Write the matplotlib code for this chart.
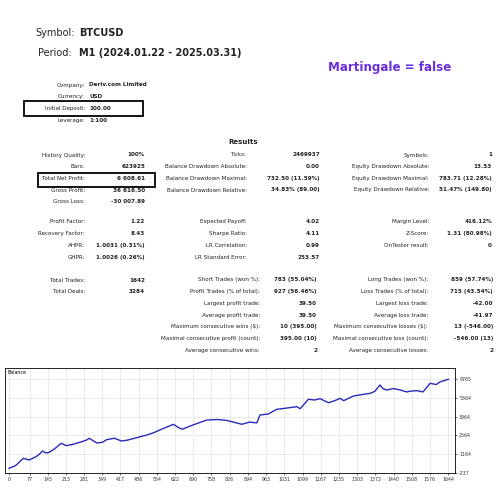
import matplotlib
matplotlib.use("Agg")
import matplotlib.pyplot as plt
from matplotlib.patches import Rectangle

trade_idx = [0, 7, 20, 30, 45, 54, 64, 75, 88, 101, 113, 126, 138, 150, 170, 195, 215, 240, 265, 291, 300, 329, 350, 366, 395, 420, 441, 470, 516, 540, 580, 616, 630, 648, 690, 741, 780, 816, 841, 872, 900, 928, 940, 970, 1003, 1040, 1078, 1090, 1121, 1145, 1165, 1196, 1220, 1240, 1253, 1290, 1320, 1353, 1370, 1389, 1400, 1414, 1440, 1464, 1490, 1500, 1527, 1550, 1577, 1600, 1614, 1630, 1645]
balance = [100, 180, 260, 400, 700, 858, 800, 731, 850, 977, 1150, 1402, 1250, 1300, 1550, 1975, 1800, 1900, 2050, 2222, 2350, 1998, 2050, 2250, 2350, 2150, 2200, 2350, 2594, 2750, 3100, 3391, 3200, 3018, 3350, 3711, 3750, 3680, 3550, 3391, 3550, 3500, 4084, 4150, 4509, 4600, 4704, 4550, 5253, 5200, 5300, 5000, 5150, 5328, 5150, 5500, 5600, 5700, 5850, 6319, 6050, 5947, 6050, 5950, 5800, 5850, 5900, 5800, 6445, 6350, 6550, 6650, 6743]
x_ticks = [0, 77, 145, 213, 281, 349, 417, 486, 554, 622, 690, 758, 826, 894, 963, 1031, 1099, 1167, 1235, 1303, 1372, 1440, 1508, 1576, 1644]
y_ticks = [-237, 1164, 2564, 3964, 5364, 6765]

left_rows = [("History Quality:", "100%"), ("Bars:", "623925"), ("Total Net Profit:", "6 608.61"),
             ("Gross Profit:", "36 616.50"), ("Gross Loss:", "-30 007.89")]
left_rows2 = [("Profit Factor:", "1.22"), ("Recovery Factor:", "8.43"), ("AHPR:", "1.0031 (0.31%)"), ("GHPR:", "1.0026 (0.26%)")]
mid_rows = [("Ticks:", "2469937"), ("Balance Drawdown Absolute:", "0.00"), ("Balance Drawdown Maximal:", "732.50 (11.59%)"),
            ("Balance Drawdown Relative:", "34.83% (89.00)")]
mid_rows2 = [("Expected Payoff:", "4.02"), ("Sharpe Ratio:", "4.11"), ("LR Correlation:", "0.99"), ("LR Standard Error:", "253.57")]
right_rows = [("Symbols:", "1"), ("Equity Drawdown Absolute:", "13.53"), ("Equity Drawdown Maximal:", "783.71 (12.28%)"),
              ("Equity Drawdown Relative:", "51.47% (149.80)")]
right_rows2 = [("Margin Level:", "416.12%"), ("Z-Score:", "1.31 (80.98%)"), ("OnTester result:", "0")]
trade_left = [("Total Trades:", "1642"), ("Total Deals:", "3284")]
trade_mid = [("Short Trades (won %):", "783 (55.04%)"), ("Profit Trades (% of total):", "927 (56.46%)"),
             ("Largest profit trade:", "39.50"), ("Average profit trade:", "39.50"),
             ("Maximum consecutive wins ($):", "10 (395.00)"), ("Maximal consecutive profit (count):", "395.00 (10)"),
             ("Average consecutive wins:", "2")]
trade_right = [("Long Trades (won %):", "859 (57.74%)"), ("Loss Trades (% of total):", "715 (43.54%)"),
               ("Largest loss trade:", "-42.00"), ("Average loss trade:", "-41.97"),
               ("Maximum consecutive losses ($):", "13 (-546.00)"), ("Maximal consecutive loss (count):", "-546.00 (13)"),
               ("Average consecutive losses:", "2")]

fig = plt.figure(figsize=(5, 5), dpi=100)
FS = 4.1

def T(x, y, s, ha="left", size=FS, bold=False, color="#222222"):
    fig.text(x / 500, 1 - y / 500, s, ha=ha, va="center", fontsize=size,
             fontweight="bold" if bold else "normal", color=color, family="DejaVu Sans")

def box(x0, y0, x1, y1):
    fig.add_artist(Rectangle((x0 / 500, 1 - y1 / 500), (x1 - x0) / 500, (y1 - y0) / 500,
                             transform=fig.transFigure, fill=False, lw=1.3, ec="black"))

T(75, 33, "Symbol:", ha="right", size=7)
T(79, 33, "BTCUSD", size=7, bold=True)
T(72, 53, "Period:", ha="right", size=7)
T(79, 53, "M1 (2024.01.22 - 2025.03.31)", size=7, bold=True)
T(390, 67, "Martingale = false", ha="center", size=8.6, bold=True, color="#6a30e0")

for i, (l, v) in enumerate([("Company:", "Deriv.com Limited"), ("Currency:", "USD"),
                            ("Initial Deposit:", "100.00"), ("Leverage:", "1:100")]):
    y = 85 + i * 11.7
    T(85, y, l, ha="right")
    T(89, y, v, bold=True)
box(24, 101, 143, 116)
T(243, 142, "Results", ha="center", size=5, bold=True)

ys1 = [155, 166.7, 178.3, 190, 201.7]
ys2 = [221.7, 233.3, 245.7, 257.3]
def col(rows, ys, lx, vx):
    for (l, v), y in zip(rows, ys):
        T(lx, y, l, ha="right")
        T(vx, y, v, ha="right", bold=True)
col(left_rows, ys1, 85, 145)
col(left_rows2, ys2, 85, 145)
col(mid_rows, ys1, 247, 320)
col(mid_rows2, ys2, 247, 320)
col(right_rows, ys1, 429, 492)
col(right_rows2, ys2, 429, 492)
box(38, 173, 155, 186.5)

ys3 = [280 + i * 11.67 for i in range(7)]
col(trade_left, ys3, 85, 145)
col(trade_mid, ys3, 260, 317)
col(trade_right, ys3, 428, 493)

ax = fig.add_axes([5 / 500, 1 - 473 / 500, 450 / 500, 105 / 500])
ax.plot(trade_idx, balance, color="#2a2ab8", lw=1.0)
ax.set_xlim(-15, 1670)
ax.set_ylim(-237, 7584)
ax.set_xticks(x_ticks)
ax.set_xticklabels([str(v) for v in x_ticks], fontsize=3.4)
ax.yaxis.tick_right()
ax.set_yticks(y_ticks)
ax.set_yticklabels([str(v) for v in y_ticks], fontsize=3.4)
ax.tick_params(length=1.5, width=0.5, pad=1.5, colors="#333333")
ax.grid(True, ls=(0, (1.5, 1.5)), color="#c8c8c8", lw=0.5)
for s in ax.spines.values():
    s.set_linewidth(0.6)
ax.text(0.005, 0.985, "Balance", transform=ax.transAxes, fontsize=3.4, va="top", ha="left")

fig.savefig("out.png", dpi=100, facecolor="white")
